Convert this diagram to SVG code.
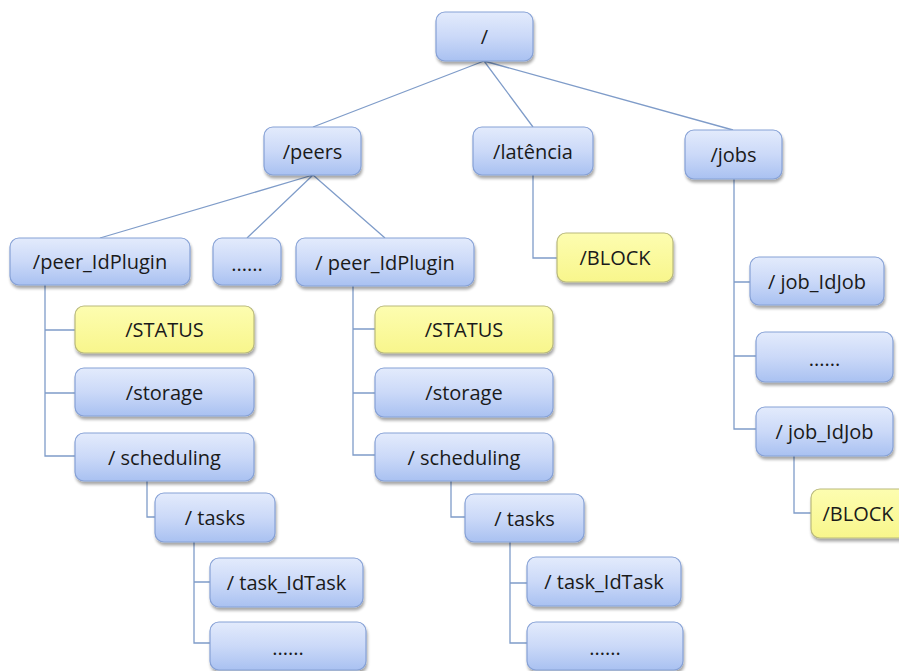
<svg xmlns="http://www.w3.org/2000/svg" width="899" height="671" viewBox="0 0 899 671">
  <defs>
    <linearGradient id="blueFill" x1="0" y1="0" x2="0" y2="1">
      <stop offset="0" stop-color="#e3ebfc"/>
      <stop offset="0.5" stop-color="#cbd9f8"/>
      <stop offset="1" stop-color="#a9c1f1"/>
    </linearGradient>
    <linearGradient id="yellowFill" x1="0" y1="0" x2="0" y2="1">
      <stop offset="0" stop-color="#fdfdb0"/>
      <stop offset="1" stop-color="#f8f68c"/>
    </linearGradient>
    <filter id="shadow" x="-10%" y="-10%" width="125%" height="140%">
      <feGaussianBlur in="SourceAlpha" stdDeviation="1.8"/>
      <feOffset dx="1" dy="2.5" result="b"/>
      <feComponentTransfer><feFuncA type="linear" slope="0.35"/></feComponentTransfer>
      <feMerge><feMergeNode/><feMergeNode in="SourceGraphic"/></feMerge>
    </filter>
  </defs>
  <style>
    .box rect { stroke-width: 1.2; filter: url(#shadow); }
    .blue rect { fill: url(#blueFill); stroke: #86a1d6; }
    .yellow rect { fill: url(#yellowFill); stroke: #b9b97c; }
    .box text { font-family: "Open Sans", "Liberation Sans", sans-serif; font-size: 20px; fill: #1a1a1a; text-anchor: middle; dominant-baseline: central; }
    .dots { font-size: 18px; }
    #connectors { fill: none; stroke: #7f9cc9; stroke-width: 1.3; }
  </style>
  <rect width="899" height="671" fill="#ffffff"/>

  <!-- tree links -->
  <g id="connectors">
    <path d="M484 61 L313 127 M484 61 L533 127 M484 61 L733 130"/>
    <path d="M313 175 L100 238 M313 175 L247 238 M313 175 L385 238"/>
    <path d="M533 175 V258 H557"/>
    <path d="M734 179 V429 H756 M734 282 H750 M734 356 H756"/>
    <path d="M45 285 V456 H75 M45 330 H75 M45 393 H75"/>
    <path d="M147 481 V517 H155"/>
    <path d="M194 542 V643 H210 M194 582 H210"/>
    <path d="M353 286 V455 H375 M353 329 H375 M353 393 H375"/>
    <path d="M451 481 V517 H465"/>
    <path d="M510 542 V643 H527 M510 583 H527"/>
    <path d="M794 456 V513 H811"/>
  </g>

  <!-- root -->
  <g id="root" class="box blue"><rect x="436" y="12" width="97" height="49" rx="9"/><text x="484.5" y="36">/</text></g>

  <!-- first level -->
  <g id="peers" class="box blue"><rect x="264" y="127" width="97" height="48" rx="9"/><text x="312.5" y="151">/peers</text></g>
  <g id="latencia" class="box blue"><rect x="473" y="127" width="120" height="48" rx="9"/><text x="533" y="151">/latência</text></g>
  <g id="jobs" class="box blue"><rect x="685" y="130" width="97" height="49" rx="9"/><text x="733.5" y="154.5">/jobs</text></g>

  <!-- peers children -->
  <g id="peer-left" class="box blue"><rect x="10" y="238" width="180" height="47" rx="9"/><text x="100" y="261.5">/peer_IdPlugin</text></g>
  <g id="peer-more" class="box blue"><rect x="213" y="238" width="68" height="47" rx="9"/><text class="dots" x="247" y="263">......</text></g>
  <g id="peer-right" class="box blue"><rect x="296" y="238" width="178" height="48" rx="9"/><text x="385" y="262">/ peer_IdPlugin</text></g>

  <!-- latência child -->
  <g id="latencia-block" class="box yellow"><rect x="557" y="233" width="116" height="49" rx="9"/><text x="615" y="257.5">/BLOCK</text></g>

  <!-- left peer subtree -->
  <g id="status-left" class="box yellow"><rect x="75" y="306" width="179" height="47" rx="9"/><text x="164.5" y="329.5">/STATUS</text></g>
  <g id="storage-left" class="box blue"><rect x="75" y="368" width="179" height="48" rx="9"/><text x="164.5" y="392">/storage</text></g>
  <g id="scheduling-left" class="box blue"><rect x="75" y="433" width="179" height="48" rx="9"/><text x="164.5" y="457">/ scheduling</text></g>
  <g id="tasks-left" class="box blue"><rect x="155" y="493" width="120" height="49" rx="9"/><text x="215" y="517.5">/ tasks</text></g>
  <g id="task-left" class="box blue"><rect x="210" y="558" width="153" height="49" rx="9"/><text x="286.5" y="582.5">/ task_IdTask</text></g>
  <g id="task-more-left" class="box blue"><rect x="210" y="622" width="156" height="48" rx="9"/><text class="dots" x="288" y="647.5">......</text></g>

  <!-- right peer subtree -->
  <g id="status-right" class="box yellow"><rect x="375" y="306" width="178" height="47" rx="9"/><text x="464" y="329.5">/STATUS</text></g>
  <g id="storage-right" class="box blue"><rect x="375" y="368" width="178" height="49" rx="9"/><text x="464" y="392.5">/storage</text></g>
  <g id="scheduling-right" class="box blue"><rect x="375" y="433" width="178" height="48" rx="9"/><text x="464" y="457">/ scheduling</text></g>
  <g id="tasks-right" class="box blue"><rect x="465" y="494" width="119" height="48" rx="9"/><text x="524.5" y="518">/ tasks</text></g>
  <g id="task-right" class="box blue"><rect x="527" y="557" width="154" height="49" rx="9"/><text x="604" y="581.5">/ task_IdTask</text></g>
  <g id="task-more-right" class="box blue"><rect x="527" y="622" width="156" height="48" rx="9"/><text class="dots" x="605" y="647.5">......</text></g>

  <!-- jobs subtree -->
  <g id="job-first" class="box blue"><rect x="750" y="257" width="134" height="48" rx="9"/><text x="817" y="281">/ job_IdJob</text></g>
  <g id="job-more" class="box blue"><rect x="756" y="332" width="137" height="50" rx="9"/><text class="dots" x="824.5" y="358.5">......</text></g>
  <g id="job-last" class="box blue"><rect x="756" y="407" width="137" height="49" rx="9"/><text x="824.5" y="431.5">/ job_IdJob</text></g>
  <g id="job-block" class="box yellow"><rect x="811" y="489" width="100" height="49" rx="9"/><text x="858" y="513.5">/BLOCK</text></g>
</svg>
